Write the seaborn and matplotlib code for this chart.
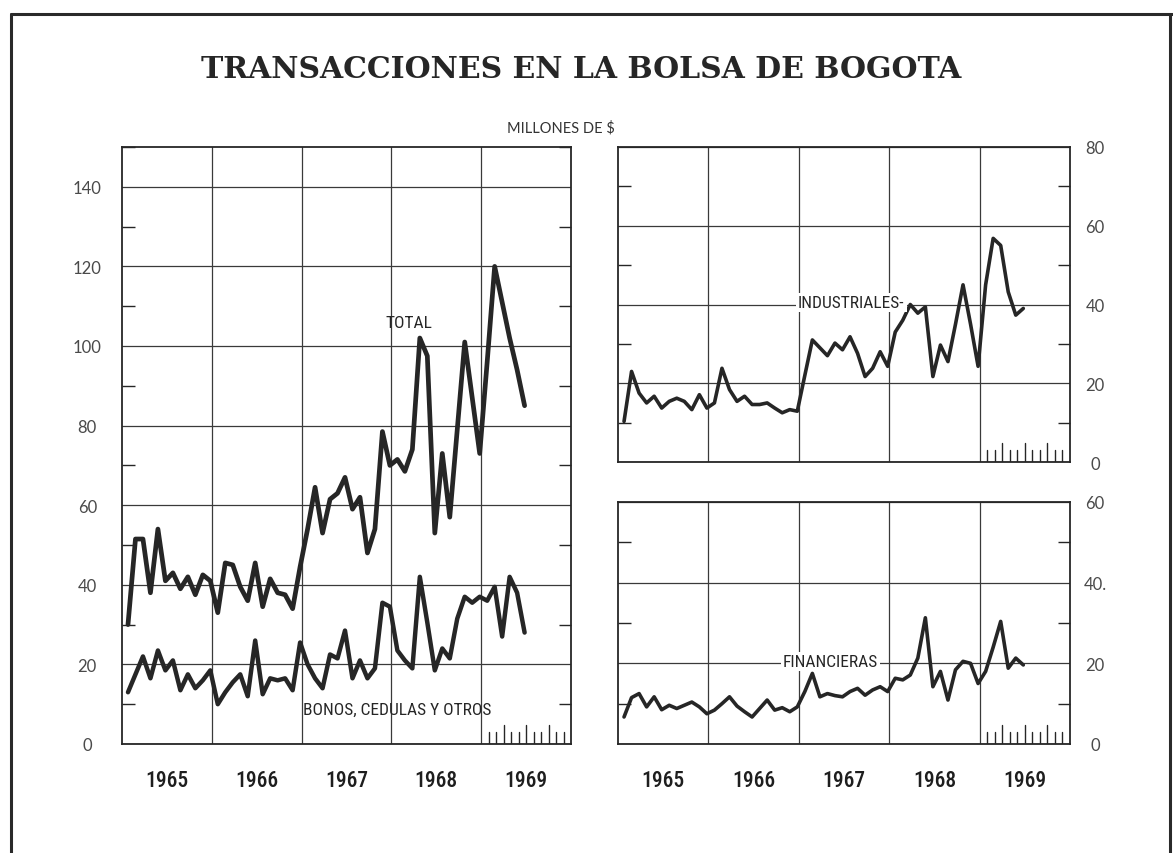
import numpy as np
import pandas as pd
import matplotlib
matplotlib.use("Agg")
import matplotlib.pyplot as plt
import matplotlib.transforms as mtransforms
from matplotlib.ticker import FixedLocator, MultipleLocator
from matplotlib.lines import Line2D
from matplotlib import font_manager
import seaborn as sns

# ---------------- data (millones de $) : monthly, Jan 1965 - Jun 1969 ----------------
year_ticks = [1965, 1966, 1967, 1968, 1969]
year_labels = ["1965", "1966", "1967", "1968", "1969"]
months = pd.date_range("1965-01-01", periods=54, freq="MS")

total = [30, 51.5, 51.5, 38, 54, 41, 43, 39, 42, 37.5, 42.5, 41,
         33, 45.5, 45, 39.5, 36, 45.5, 34.5, 41.5, 38, 37.5, 34, 44.5,
         54, 64.5, 53, 61.5, 63, 67, 59, 62, 48, 54, 78.5, 70,
         71.5, 68.5, 74, 102, 97.5, 53, 73, 57, 79, 101, 87, 73,
         96, 120, 111, 102, 94, 85]
bonos = [13, 17.5, 22, 16.5, 23.5, 18.5, 21, 13.5, 17.5, 14, 16, 18.5,
         10, 13, 15.5, 17.5, 12, 26, 12.5, 16.5, 16, 16.5, 13.5, 25.5,
         20, 16.5, 14, 22.5, 21.5, 28.5, 16.5, 21, 16.5, 19, 35.5, 34.5,
         23.5, 21, 19, 42, 30.5, 18.5, 24, 21.5, 31.5, 37, 35.5, 37,
         36, 39.5, 27, 42, 38, 28]
industriales = [10.3, 23, 17.5, 15, 16.7, 13.7, 15.4, 16.2, 15.4, 13.3, 17.1, 13.7,
                15, 23.8, 18.4, 15.4, 16.7, 14.6, 14.6, 15, 13.7, 12.5, 13.3, 12.9,
                22, 31, 29, 27, 30.2, 28.5, 31.8, 27.6, 21.7, 23.8, 28, 24.3,
                33, 36, 40, 37.8, 39.4, 21.7, 29.7, 25.5, 35, 45, 35, 24.3,
                45, 56.8, 55, 43.2, 37.3, 39]
financieras = [6.7, 11.5, 12.5, 9.2, 11.7, 8.5, 9.6, 8.8, 9.6, 10.4, 9.2, 7.5,
               8.4, 10, 11.7, 9.4, 8, 6.7, 8.8, 10.9, 8.4, 9, 8, 9.2,
               13, 17.5, 11.7, 12.5, 12, 11.7, 13, 13.8, 12.1, 13.4, 14.2, 13,
               16.3, 15.9, 17.1, 21.3, 31.3, 14.2, 18, 10.9, 18.4, 20.5, 20, 15,
               18, 24, 30.4, 18.8, 21.3, 19.6]

# decimal-year position of each monthly observation
xpos = months.year + (months.month - 1 + 0.8) / 12.0
df = pd.DataFrame({"x": xpos, "TOTAL": total, "BONOS": bonos,
                   "INDUSTRIALES": industriales, "FINANCIERAS": financieras})

# ---------------- style ----------------
sns.set_style("white")
plt.rcParams["font.family"] = ["DejaVu Sans"]
INK = "#262626"
GRID = "#3a3a3a"

installed = {f.name for f in font_manager.fontManager.ttflist}
NARROW = [f for f in ["Roboto Condensed", "Liberation Sans Narrow", "Open Sans Condensed",
                      "DejaVu Sans"] if f in installed] or ["DejaVu Sans"]
NARROW_STRETCH = "condensed"
ROUND = ["Lato", "DejaVu Sans"]

W, H = 1173, 854
fig = plt.figure(figsize=(W / 100, H / 100), dpi=100)
fig.patch.set_facecolor("white")


def px_axes(x0, y0, x1, y1):
    return fig.add_axes([x0 / W, 1 - y1 / H, (x1 - x0) / W, (y1 - y0) / H])


axL = px_axes(122, 148, 571, 745)
axI = px_axes(618, 148, 1070, 463)
axF = px_axes(618, 503, 1070, 745)


def style_axes(ax, ymax, side, show_years):
    ax.set_xlim(1965, 1970)
    ax.set_ylim(0, ymax)
    ax.set_facecolor("white")
    for s in ax.spines.values():
        s.set_visible(True)
        s.set_color(INK)
        s.set_linewidth(1.3)
    ax.xaxis.set_major_locator(FixedLocator([1966, 1967, 1968, 1969]))
    ax.set_xticklabels([])
    ax.tick_params(axis="x", which="major", length=0)
    if show_years:
        ax.xaxis.set_minor_locator(FixedLocator([y + 0.5 for y in year_ticks]))
        ax.xaxis.set_minor_formatter(plt.FixedFormatter(year_labels))
        ax.tick_params(axis="x", which="minor", length=0, pad=18, labelsize=15.5,
                       labelcolor="#1e1e1e")
        for t in ax.get_xticklabels(minor=True):
            t.set_family(NARROW)
            t.set_stretch(NARROW_STRETCH)
            t.set_weight("medium")
    else:
        ax.xaxis.set_minor_locator(FixedLocator([]))
    ax.grid(True, which="major", axis="both", color=GRID, linewidth=0.9)
    ax.yaxis.set_major_locator(MultipleLocator(20))
    ax.yaxis.set_minor_locator(MultipleLocator(10))
    ax.tick_params(axis="y", which="major", length=0, labelsize=12,
                   labelcolor="#4a4a4a")
    ax.tick_params(axis="y", which="minor", direction="in", length=9,
                   width=1.0, color=INK, left=True, right=True)
    if side == "right":
        ax.yaxis.tick_right()
        ax.tick_params(axis="y", which="minor", left=True, right=True)
        ax.tick_params(axis="y", which="major", pad=18)
    else:
        ax.tick_params(axis="y", which="major", pad=25)
    ax.set_axisbelow(True)
    # monthly marks inside the last year
    bbox_h = ax.get_position().height * H
    trans = mtransforms.blended_transform_factory(ax.transData, ax.transAxes)
    for k in range(1, 12):
        h = (19 if k % 3 == 0 else 12) / bbox_h
        ax.add_line(Line2D([1969 + k / 12] * 2, [0, h], transform=trans,
                           color=INK, linewidth=1.0))


style_axes(axL, 150, "left", True)
axL.yaxis.set_major_locator(FixedLocator(list(range(0, 141, 20))))
style_axes(axI, 80, "right", False)
style_axes(axF, 60, "right", True)
axF.yaxis.set_major_locator(FixedLocator([0, 20, 40, 60]))
axF.set_yticklabels(["0", "20", "40.", "60"])

for ax in (axL, axI, axF):
    for t in ax.get_yticklabels():
        t.set_family(ROUND)
        t.set_horizontalalignment("center")

# ---------------- series ----------------
sns.lineplot(data=df, x="x", y="TOTAL", ax=axL, color=INK, linewidth=3.4)
sns.lineplot(data=df, x="x", y="BONOS", ax=axL, color=INK, linewidth=3.2)
sns.lineplot(data=df, x="x", y="INDUSTRIALES", ax=axI, color=INK, linewidth=2.6)
sns.lineplot(data=df, x="x", y="FINANCIERAS", ax=axF, color=INK, linewidth=2.6)
for ax in (axL, axI, axF):
    ax.set_xlabel("")
    ax.set_ylabel("")

# ---------------- labels ----------------
lab = dict(family=NARROW, stretch=NARROW_STRETCH, fontsize=12.5, color=INK,
           ha="center", va="center")
axL.text(1968.2, 106, "TOTAL", **lab)
axL.text(1968.06, 8.6, "BONOS, CEDULAS Y OTROS", **lab)
axI.text(1967.58, 40.5, "INDUSTRIALES-", zorder=5,
         bbox=dict(facecolor="white", edgecolor="none", pad=1.5), **lab)
axF.text(1967.35, 20.5, "FINANCIERAS", zorder=5,
         bbox=dict(facecolor="white", edgecolor="none", pad=1.5), **lab)

fig.text(581 / W, 1 - 69 / H, "TRANSACCIONES EN LA BOLSA DE BOGOTA",
         family=["DejaVu Serif"], fontsize=21.5, weight="bold", color="#262626",
         ha="center", va="center")
fig.text(561 / W, 1 - 128 / H, "MILLONES DE $", family=ROUND, fontsize=10.5,
         color="#333333", ha="center", va="center")

# frame of the page
for (xa, ya, xb, yb) in [(11, 15, 1172, 15), (11, 15, 11, 854), (1170, 15, 1170, 854)]:
    fig.add_artist(Line2D([xa / W, xb / W], [1 - ya / H, 1 - yb / H],
                          transform=fig.transFigure, color="#2a2a2a", linewidth=2.2))

fig.savefig("out.png", dpi=100, facecolor="white")
